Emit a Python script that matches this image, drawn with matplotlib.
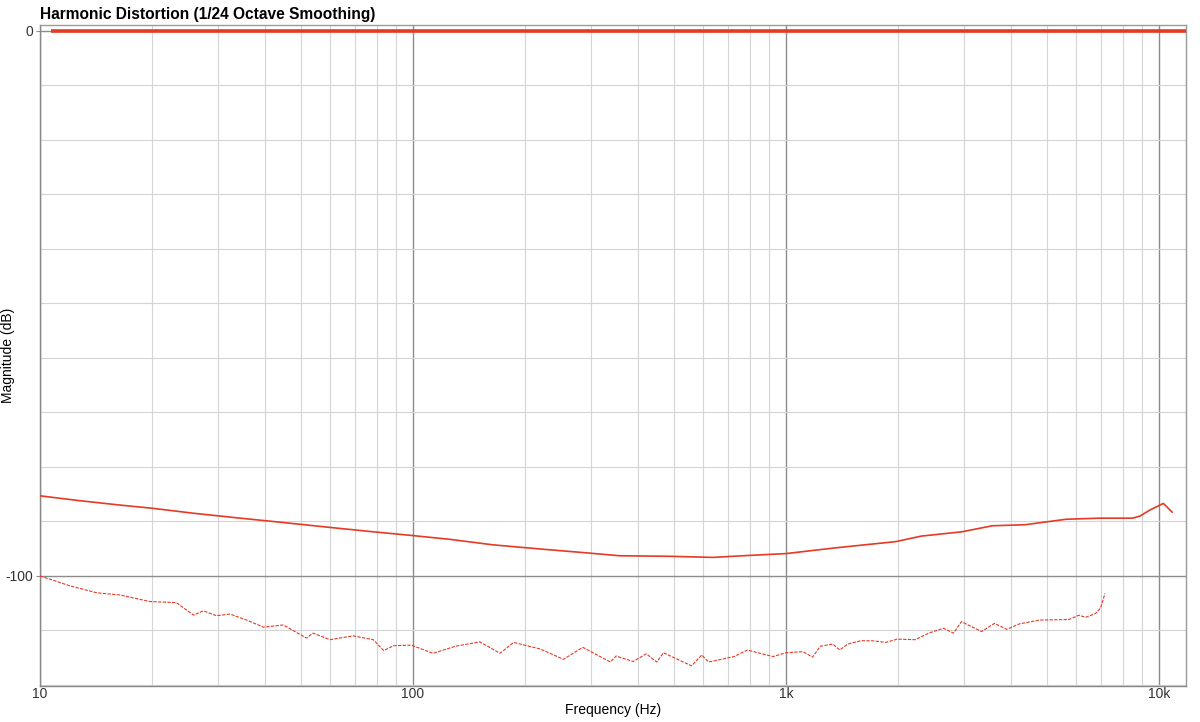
import matplotlib.pyplot as plt
from matplotlib.ticker import FixedLocator, NullFormatter
import numpy as np

plt.rcParams['font.family'] = ['Liberation Sans', 'DejaVu Sans']
plt.rcParams['axes.unicode_minus'] = False

# fundamental (normalised to 0 dB)
freq_fund = [10.7, 11800]
mag_fund = [0, 0]

# 2nd harmonic (solid)
freq_h2 = [10, 12.8, 16.4, 20.1, 25.8, 34.4, 44.9, 59.9, 78.2, 100, 126, 164,
           223, 284, 358, 488, 637, 764, 1000, 1335, 1970, 2300, 2960, 3570,
           4380, 5630, 6950, 8490, 8890, 9450, 10260, 10840]
mag_h2 = [-85.3, -86.2, -87.0, -87.6, -88.5, -89.4, -90.2, -91.1, -91.9, -92.6,
          -93.3, -94.3, -95.1, -95.7, -96.3, -96.4, -96.6, -96.3, -95.9, -94.9,
          -93.7, -92.7, -91.9, -90.8, -90.6, -89.6, -89.4, -89.4, -89.0, -87.9,
          -86.7, -88.3]

# 3rd harmonic (dashed)
freq_h3 = [10, 12.0, 14.2, 16.4, 19.7, 23.2, 25.8, 27.4, 29.7, 32.3, 35.8, 39.7,
           44.9, 51.8, 53.9, 59.9, 69.1, 78.2, 83.4, 88.7, 99, 113, 130, 151,
           171, 186, 219, 253, 285, 338, 350, 389, 422, 450, 469, 558, 594, 620,
           725, 787, 922, 1000, 1110, 1177, 1235, 1334, 1392, 1463, 1586, 1703,
           1850, 1985, 2220, 2410, 2640, 2810, 2950, 3340, 3620, 3900, 4220,
           4780, 5730, 6090, 6350, 6750, 6960, 7160]
mag_h3 = [-100.0, -101.8, -103.1, -103.5, -104.7, -104.9, -107.2, -106.4, -107.3,
          -107.0, -108.1, -109.4, -109.0, -111.4, -110.5, -111.7, -111.0, -111.7,
          -113.7, -112.8, -112.7, -114.2, -112.9, -112.1, -114.2, -112.2, -113.4,
          -115.3, -113.1, -115.8, -114.7, -115.7, -114.3, -115.8, -114.1, -116.5,
          -114.5, -115.8, -114.8, -113.6, -114.8, -114.1, -113.9, -114.9, -112.9,
          -112.5, -113.6, -112.5, -111.9, -111.9, -112.2, -111.6, -111.7, -110.5,
          -109.6, -110.5, -108.4, -110.2, -108.7, -109.8, -108.8, -108.1, -108.0,
          -107.2, -107.6, -106.9, -105.9, -103.2]

x_major = [10, 100, 1000, 10000]
x_labels = ['10', '100', '1k', '10k']
y_major = [0, -100]

red = '#e53a25'

fig = plt.figure(figsize=(12, 7.22), dpi=100)
ax = fig.add_axes([40 / 1200, 1 - 686 / 722, 1146 / 1200, 661 / 722])

ax.plot(freq_fund, mag_fund, color=red, lw=2.6, solid_capstyle='butt', zorder=3)
ax.plot(freq_h2, mag_h2, color=red, lw=1.2, zorder=3)
ax.plot(freq_h3, mag_h3, color=red, lw=0.8, linestyle=(0, (3, 1.2)), zorder=3)

ax.set_xscale('log')
ax.set_xlim(10, 11800)
ax.set_ylim(-120.2, 1.1)

ax.xaxis.set_major_locator(FixedLocator(x_major))
ax.set_xticklabels(x_labels)
minor_x = [m * d for d in (10, 100, 1000) for m in range(2, 10)]
ax.xaxis.set_minor_locator(FixedLocator(minor_x))
ax.xaxis.set_minor_formatter(NullFormatter())

ax.yaxis.set_major_locator(FixedLocator(y_major))
ax.yaxis.set_minor_locator(FixedLocator(list(range(-120, 1, 10))))
ax.yaxis.set_minor_formatter(NullFormatter())

ax.grid(which='major', color='#8c8c8c', lw=1.0)
ax.grid(which='minor', color='#d4d4d4', lw=0.8)
ax.set_axisbelow(True)

ax.tick_params(which='both', length=0, labelsize=10, colors='#333333', pad=1)
ax.tick_params(axis='y', which='major', length=3, color='#8c8c8c', pad=2)

for s in ax.spines.values():
    s.set_color('#9a9a9a')
    s.set_linewidth(1.0)
ax.spines['left'].set_color('#888888')
ax.spines['bottom'].set_color('#888888')

ax.set_xlabel('Frequency (Hz)', fontsize=10, labelpad=1)
ax.set_ylabel('Magnitude (dB)', fontsize=10)
ax.yaxis.set_label_coords(-32 / 1146, 0.5)
ax.yaxis.label.set_va('center')

fig.text(40 / 1200, 1 - 15 / 722, 'Harmonic Distortion (1/24 Octave Smoothing)',
         fontsize=11.2, fontweight='bold', va='center', ha='left')

fig.savefig('out.png', dpi=100)
